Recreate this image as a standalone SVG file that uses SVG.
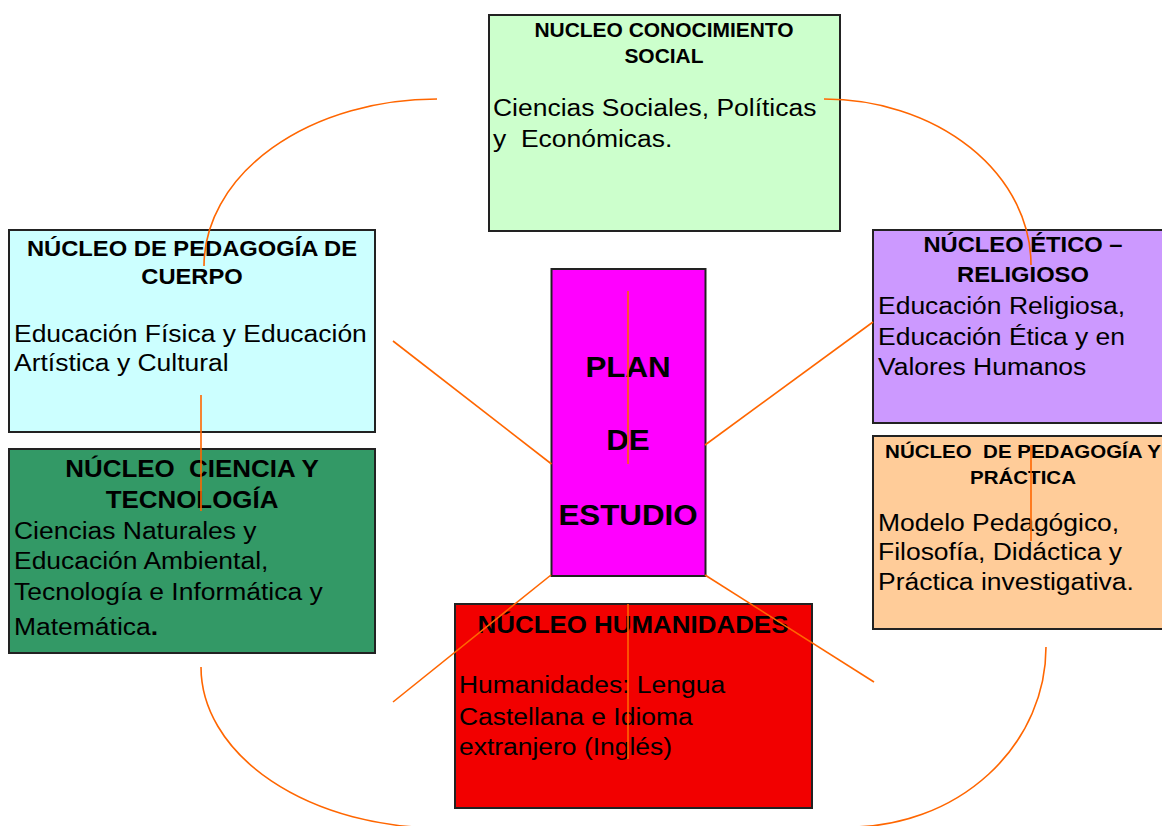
<svg xmlns="http://www.w3.org/2000/svg" width="1162" height="826" viewBox="0 0 1162 826">
<style>
.box{stroke:#222;stroke-width:2}
.t{font-family:"Liberation Sans",Arial,sans-serif;fill:#000;white-space:pre}
.h{font-weight:bold;text-anchor:middle}
.b{font-size:24.5px}
.c{fill:none;stroke:#ff6600;stroke-width:1.6}
</style>
<rect width="1162" height="826" fill="#fff"/>
<g id="node-social">
<rect class="box" x="489" y="15" width="351" height="216" fill="#ccffcc"/>
<g transform="scale(1.08 1)">
<text class="t h" x="614.8" y="37" font-size="19.4">NUCLEO CONOCIMIENTO</text>
<text class="t h" x="614.8" y="63" font-size="19.4">SOCIAL</text>
<text class="t b" x="456.5" y="116">Ciencias Sociales, Políticas</text>
<text class="t b" x="456.5" y="147" xml:space="preserve">y  Económicas.</text>
</g>
</g>
<g id="node-cuerpo">
<rect class="box" x="9" y="230" width="366" height="202" fill="#ccffff"/>
<g transform="scale(1.08 1)">
<text class="t h" x="177.8" y="256" font-size="22">NÚCLEO DE PEDAGOGÍA DE</text>
<text class="t h" x="177.8" y="284" font-size="22">CUERPO</text>
<text class="t b" x="13" y="342">Educación Física y Educación</text>
<text class="t b" x="13" y="371">Artística y Cultural</text>
</g>
</g>
<g id="node-ciencia">
<rect class="box" x="9" y="449" width="366" height="204" fill="#339966"/>
<g transform="scale(1.08 1)">
<text class="t h" x="177.8" y="477" font-size="24" xml:space="preserve">NÚCLEO  CIENCIA Y</text>
<text class="t h" x="177.8" y="508" font-size="24">TECNOLOGÍA</text>
<text class="t b" x="13" y="539">Ciencias Naturales y</text>
<text class="t b" x="13" y="569">Educación Ambiental,</text>
<text class="t b" x="13" y="600">Tecnología e Informática y</text>
<text class="t b" x="13" y="635">Matemática<tspan font-weight="bold">.</tspan></text>
</g>
</g>
<g id="node-etico">
<rect class="box" x="873" y="230" width="300" height="193" fill="#cc99ff"/>
<g transform="scale(1.08 1)">
<text class="t h" x="947.2" y="252" font-size="22">NÚCLEO ÉTICO –</text>
<text class="t h" x="947.2" y="282" font-size="22">RELIGIOSO</text>
<text class="t b" x="813" y="314">Educación Religiosa,</text>
<text class="t b" x="813" y="345">Educación Ética y en</text>
<text class="t b" x="813" y="375">Valores Humanos</text>
</g>
</g>
<g id="node-practica">
<rect class="box" x="873" y="436" width="300" height="193" fill="#ffcc99"/>
<g transform="scale(1.08 1)">
<text class="t h" x="947.2" y="458" font-size="19" xml:space="preserve">NÚCLEO  DE PEDAGOGÍA Y</text>
<text class="t h" x="947.2" y="484" font-size="19">PRÁCTICA</text>
<text class="t b" x="813" y="531">Modelo Pedagógico,</text>
<text class="t b" x="813" y="560">Filosofía, Didáctica y</text>
<text class="t b" x="813" y="590">Práctica investigativa.</text>
</g>
</g>
<g id="node-humanidades">
<rect class="box" x="455" y="604" width="357" height="204" fill="#f20000"/>
<g transform="scale(1.08 1)">
<text class="t h" x="586.1" y="633" font-size="24">NÚCLEO HUMANIDADES</text>
<text class="t b" x="425" y="693">Humanidades: Lengua</text>
<text class="t b" x="425" y="725">Castellana e Idioma</text>
<text class="t b" x="425" y="755">extranjero (Inglés)</text>
</g>
</g>
<g id="node-plan">
<rect class="box" x="551.5" y="269" width="154" height="307" fill="#ff00ff"/>
<g transform="scale(1.08 1)">
<text class="t h" x="581.5" y="377" font-size="29">PLAN</text>
<text class="t h" x="581.5" y="450" font-size="29">DE</text>
<text class="t h" x="581.5" y="525" font-size="29">ESTUDIO</text>
</g>
</g>
<g id="connectors">
<path class="c" d="M437,99 A233,167 0 0 0 204,266"/>
<path class="c" d="M824,99 A207,166 0 0 1 1031,265"/>
<path class="c" d="M201,667 A240,161 0 0 0 441,828"/>
<path class="c" d="M1046,647 A196,180 0 0 1 850,827"/>
<line class="c" x1="201" y1="395" x2="201" y2="511"/>
<line class="c" x1="393" y1="341" x2="551.5" y2="464"/>
<line class="c" x1="705" y1="445" x2="873" y2="322"/>
<line class="c" x1="628" y1="291" x2="628" y2="464"/>
<line class="c" x1="551" y1="575" x2="393" y2="702"/>
<line class="c" x1="705" y1="575" x2="874" y2="682"/>
<line class="c" x1="628" y1="604" x2="628" y2="759"/>
<line class="c" x1="1031" y1="445" x2="1031" y2="541"/>
</g>
</svg>
